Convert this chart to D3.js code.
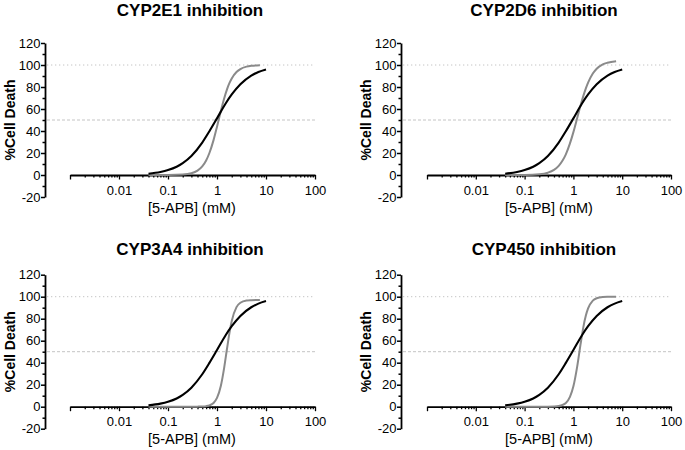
<!DOCTYPE html>
<html>
<head>
<meta charset="utf-8">
<script src="https://cdn.jsdelivr.net/npm/d3@7"></script>
<style>
    html, body { margin: 0; padding: 0; background: #fff; }
    svg { display: block; font-family: "Liberation Sans", Arial, Helvetica, sans-serif; }
</style>
</head>
<body>
<svg id="chart" width="685" height="450"></svg>
<script>
'use strict';

var panelTitles = ['CYP2E1 inhibition', 'CYP2D6 inhibition', 'CYP3A4 inhibition', 'CYP450 inhibition'];
var xTickLabels = [0.01, 0.1, 1, 10, 100];
var yTickLabels = [-20, 0, 20, 40, 60, 80, 100, 120];
var refLevels = [100, 50];

// fitted curve without inhibitor (same in every panel)
var blackDose = [0.04, 0.07, 0.1, 0.15, 0.2, 0.3, 0.5, 0.7, 1, 1.5, 2, 3, 5, 7, 10];
var blackDeath = [1.2, 2.8, 4.5, 7.5, 10.8, 17.3, 29.5, 39.8, 51.5, 65.0, 73.2, 82.5, 90.4, 93.7, 96.0];

// fitted curves with inhibitor
var greyDose = [0.04, 0.1, 0.2, 0.3, 0.4, 0.5, 0.6, 0.7, 0.85, 1, 1.2, 1.4, 1.6, 1.8, 2, 2.5, 3, 4, 5, 7.5];
var grey2E1 = [0, 0.05, 0.45, 1.6, 4.0, 7.8, 13.2, 20.0, 31.7, 43.9, 58.3, 69.6, 77.9, 83.7, 87.8, 93.6, 96.3, 98.5, 99.3, 99.8];
var grey2D6 = [0, 0.1, 0.7, 2.1, 4.6, 8.3, 13.1, 18.8, 28.7, 39.0, 52.0, 63.1, 71.9, 78.7, 83.9, 92.2, 96.6, 100.6, 102.1, 103.4];
var grey3A4 = [0, 0, 0, 0, 0.06, 0.19, 0.5, 1.2, 3.4, 8.0, 19.1, 35.3, 52.7, 67.4, 77.9, 90.5, 94.5, 96.5, 96.8, 97.0];
var grey450 = [0, 0, 0, 0.04, 0.19, 0.6, 1.6, 3.4, 8.9, 18.5, 36.9, 56.6, 72.4, 82.8, 89.3, 96.4, 98.6, 99.7, 99.9, 100];

var greySeries = [grey2E1, grey2D6, grey3A4, grey450];

// panel placement (pixels)
var layout = [
    {axisX: 45, left: 70, right: 315, zeroY: 175, titleX: 190, titleY: 16, labelX: 192, labelY: 213, yLabelX: 14.5},
    {axisX: 401, left: 427, right: 671, zeroY: 175, titleX: 544, titleY: 16, labelX: 549, labelY: 213, yLabelX: 371},
    {axisX: 45, left: 70, right: 315, zeroY: 406.7, titleX: 190, titleY: 255, labelX: 192, labelY: 443.5, yLabelX: 14.5},
    {axisX: 401, left: 427, right: 671, zeroY: 406.7, titleX: 544, titleY: 255, labelX: 549, labelY: 443.5, yLabelX: 371}
];

var fontStack = '"Liberation Sans", Arial, Helvetica, sans-serif';
var svg = d3.select('#chart');

function zipSeries(xs, ys) {
    return xs.map(function(d, i) { return {dose: d, death: ys[i]}; });
}

function allLogTicks() {
    var out = [];
    [0.001, 0.01, 0.1, 1, 10].forEach(function(dec) {
        for(var k = 1; k < 10; k++) out.push(+(dec * k).toPrecision(3));
    });
    out.push(100);
    return out;
}

function drawPanel(p, i) {
    var g = svg.append('g').attr('class', 'panel');

    var x = d3.scaleLog()
        .domain([0.001, 100])
        .range([p.left, p.right]);

    var y = d3.scaleLinear()
        .domain([-20, 120])
        .range([p.zeroY + 22, p.zeroY - 132]);

    // reference lines at 100 and 50
    g.selectAll('.refline')
        .data(refLevels)
        .enter().append('line')
        .attr('x1', p.axisX + 2)
        .attr('x2', p.right)
        .attr('y1', function(d) { return y(d); })
        .attr('y2', function(d) { return y(d); })
        .style('stroke', '#c4c4c4')
        .style('stroke-width', 1)
        .style('stroke-dasharray', function(d) { return d === 100 ? '1.3,2.7' : '3,2'; });

    // y axis
    var yAxis = d3.axisLeft(y)
        .tickValues(d3.range(-20, 121, 10))
        .tickSizeInner(4)
        .tickSizeOuter(0)
        .tickPadding(0.5)
        .tickFormat(function(d) { return yTickLabels.indexOf(d) !== -1 ? d : ''; });

    var ya = g.append('g')
        .attr('transform', 'translate(' + p.axisX + ',0)')
        .call(yAxis)
        .attr('font-family', fontStack)
        .attr('font-size', 13);
    ya.select('.domain').style('stroke', '#000').style('stroke-width', 1.8);
    ya.selectAll('.tick line')
        .style('stroke', '#000')
        .style('stroke-width', 1.5)
        .attr('x2', function(d) { return yTickLabels.indexOf(d) !== -1 ? -4 : -2.5; });
    ya.selectAll('.tick text')
        .style('font-size', '13px')
        .style('fill', '#000');

    // x axis sits on y = 0
    var xAxis = d3.axisBottom(x)
        .tickValues(allLogTicks())
        .tickSizeInner(4.5)
        .tickSizeOuter(0)
        .tickFormat(function(d) { return xTickLabels.indexOf(d) !== -1 ? d : ''; });

    var xa = g.append('g')
        .attr('transform', 'translate(0,' + y(0) + ')')
        .call(xAxis)
        .attr('font-family', fontStack)
        .attr('font-size', 13);
    xa.select('.domain').style('stroke', '#000').style('stroke-width', 1.8);
    xa.selectAll('.tick line')
        .style('stroke', '#000')
        .style('stroke-width', 1.3)
        .attr('y2', function(d) {
            return Math.abs(Math.log10(d) - Math.round(Math.log10(d))) < 1e-6 ? 4.5 : 2.5;
        });
    xa.selectAll('.tick text')
        .attr('y', 10.5)
        .style('font-size', '13px')
        .style('fill', '#000');

    // curves
    var line = d3.line()
        .x(function(d) { return x(d.dose); })
        .y(function(d) { return y(d.death); })
        .curve(d3.curveMonotoneX);

    g.append('path')
        .datum(zipSeries(greyDose, greySeries[i]))
        .attr('d', line)
        .style('fill', 'none')
        .style('stroke', '#8a8a8a')
        .style('stroke-width', 2);

    g.append('path')
        .datum(zipSeries(blackDose, blackDeath))
        .attr('d', line)
        .style('fill', 'none')
        .style('stroke', '#000')
        .style('stroke-width', 2.1);

    // texts
    g.append('text')
        .attr('x', p.titleX)
        .attr('y', p.titleY)
        .attr('text-anchor', 'middle')
        .style('font-size', '17px')
        .style('font-weight', 'bold')
        .text(panelTitles[i]);

    g.append('text')
        .attr('x', p.labelX)
        .attr('y', p.labelY)
        .attr('text-anchor', 'middle')
        .style('font-size', '14.5px')
        .text('[5-APB] (mM)');

    g.append('text')
        .attr('transform', 'translate(' + p.yLabelX + ',' + y(50) + ') rotate(-90)')
        .attr('text-anchor', 'middle')
        .style('font-size', '14px')
        .style('font-weight', 'bold')
        .text('%Cell Death');
}

layout.forEach(drawPanel);
</script>
</body>
</html>
